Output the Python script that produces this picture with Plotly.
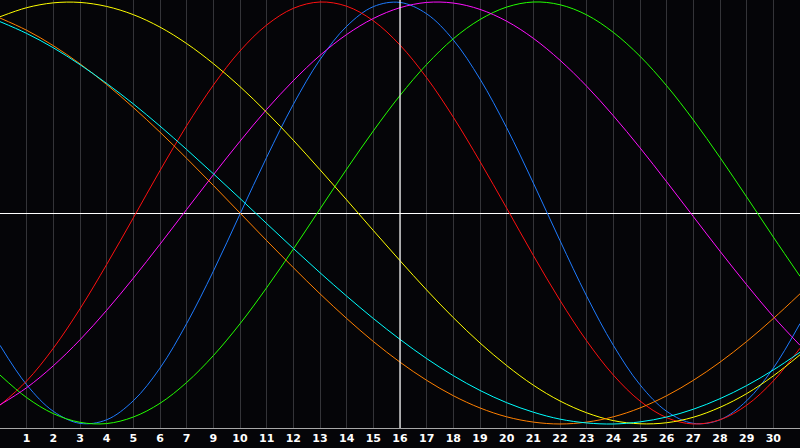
import plotly.graph_objects as go

days = list(range(0, 31))

physical = [-62.7, -81.4, -94.0, -99.7, -98.0, -89.0, -73.5, -52.4, -27.6, -0.5, 26.4,
            51.5, 72.7, 88.5, 97.8, 99.8, 94.4, 82.0, 63.5, 40.4, 14.2, -13.1, -39.4,
            -62.7, -81.4, -94.0, -99.7, -98.0, -89.0, -73.5, -52.4]
emotional = [-91.1, -79.6, -64.1, -45.4, -24.4, -2.3, 20.1, 41.4, 60.6, 76.8, 89.1,
             97.0, 100.0, 98.0, 91.1, 79.6, 64.1, 45.4, 24.4, 2.3, -20.1, -41.4, -60.6,
             -76.8, -89.1, -97.0, -100.0, -98.0, -91.1, -79.6, -64.1]
intellectual = [-76.8, -87.5, -95.1, -99.2, -99.8, -96.7, -90.2, -80.3, -67.6, -52.5,
                -35.4, -17.1, 1.9, 20.8, 38.9, 55.7, 70.4, 82.6, 91.7, 97.6, 100.0, 98.7,
                93.9, 85.6, 74.3, 60.3, 44.1, 26.3, 7.6, -11.4, -30.0]
intuitive = [-90.9, -82.8, -72.4, -60.1, -46.1, -30.9, -14.8, 1.7, 18.1, 34.0, 49.1,
             62.7, 74.7, 84.6, 92.2, 97.3, 99.8, 99.5, 96.5, 90.9, 82.8, 72.4, 60.1,
             46.1, 30.9, 14.8, -1.7, -18.1, -34.0, -49.1, -62.7]
aesthetic = [93.0, 97.3, 99.6, 99.8, 97.9, 94.0, 88.1, 80.3, 70.8, 59.9, 47.7, 34.5,
             20.5, 6.2, -8.3, -22.6, -36.5, -49.6, -61.6, -72.3, -81.6, -89.1, -94.7,
             -98.4, -99.9, -99.4, -96.8, -92.1, -85.6, -77.2, -67.2]
awareness = [92.4, 86.6, 79.3, 70.7, 60.9, 50.0, 38.3, 25.9, 13.1, 0.0, -13.1, -25.9,
             -38.3, -50.0, -60.9, -70.7, -79.3, -86.6, -92.4, -96.6, -99.1, -100.0,
             -99.1, -96.6, -92.4, -86.6, -79.3, -70.7, -60.9, -50.0, -38.3]
spiritual = [90.7, 85.1, 78.3, 70.3, 61.4, 51.7, 41.2, 30.1, 18.6, 6.9, -5.0, -16.8,
             -28.3, -39.4, -50.0, -59.9, -69.0, -77.1, -84.1, -89.9, -94.4, -97.7, -99.5,
             -100.0, -99.0, -96.7, -93.0, -88.0, -81.8, -74.4, -66.0]

tick_pos = list(range(1, 30))
tick_labels = ["1", "2", "3", "4", "5", "6", "7", "9", "10", "11", "12", "13", "14", "15",
               "16", "17", "18", "19", "20", "21", "22", "23", "24", "25", "26", "27", "28",
               "29", "30"]
today = 15

series = [
    ("Physical", physical, "#1e7bff"),
    ("Emotional", emotional, "#ff1010"),
    ("Intellectual", intellectual, "#22ff00"),
    ("Intuitive", intuitive, "#ff10ff"),
    ("Aesthetic", aesthetic, "#ffff00"),
    ("Awareness", awareness, "#ff8000"),
    ("Spiritual", spiritual, "#00ffff"),
]

fig = go.Figure()
for name, vals, col in series:
    fig.add_trace(go.Scatter(
        x=days, y=vals, mode="lines", name=name,
        line=dict(color=col, width=1, shape="spline", smoothing=1.0),
        hoverinfo="skip", showlegend=False,
    ))

fig.add_vline(x=today, line=dict(color="#ffffff", width=1.2), layer="above")

fig.update_layout(
    width=800, height=448,
    margin=dict(l=0, r=0, t=0, b=20),
    paper_bgcolor="#050508",
    plot_bgcolor="#050508",
    xaxis=dict(
        range=[0, 30],
        tickmode="array", tickvals=tick_pos, ticktext=tick_labels,
        showgrid=True, gridcolor="#343438", gridwidth=1,
        zeroline=False,
        showline=True, linecolor="#a8a8a8", linewidth=1, mirror=True,
        ticks="",
        tickfont=dict(family="DejaVu Sans", size=11, color="#ffffff", weight="bold"),
        fixedrange=True,
    ),
    yaxis=dict(
        range=[-101.9, 100.95],
        showticklabels=False, showgrid=False,
        zeroline=True, zerolinecolor="#ffffff", zerolinewidth=1.2,
        showline=True, linecolor="#a8a8a8", linewidth=1, mirror=True,
        ticks="",
        fixedrange=True,
    ),
)

fig.write_html("out.html", config={"displayModeBar": False})

with open("out.html", "r", encoding="utf-8") as f:
    html = f.read()
html = html.replace("<head>", "<head><style>html,body{margin:0;padding:0;background:#050508;overflow:hidden;}</style>", 1)
with open("out.html", "w", encoding="utf-8") as f:
    f.write(html)
